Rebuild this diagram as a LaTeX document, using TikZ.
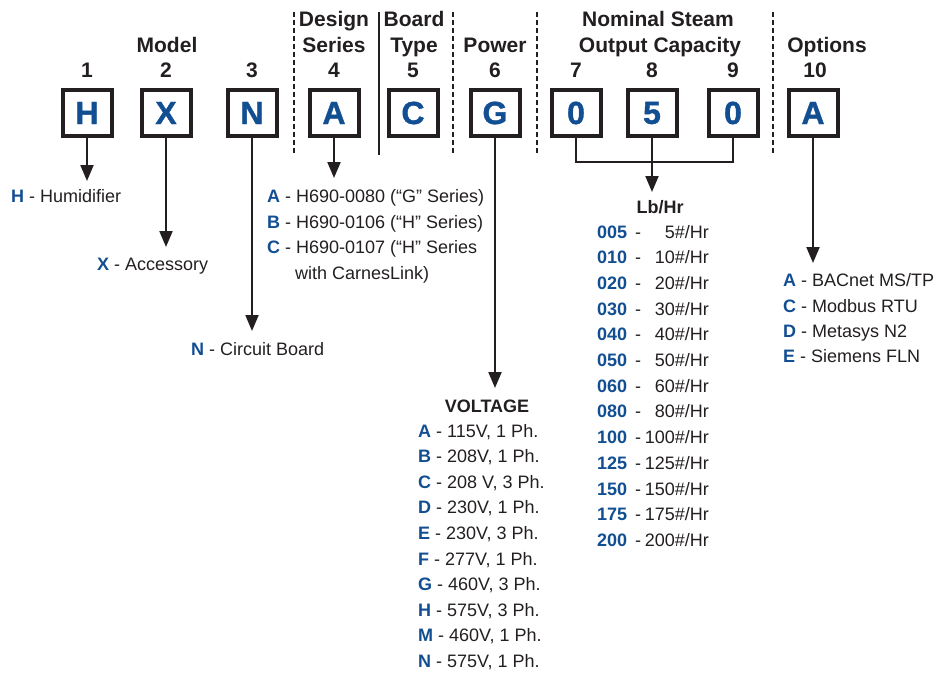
\documentclass[tikz,border=0pt]{standalone}
\usepackage{fontspec}
\setmainfont{Liberation Sans}
\usetikzlibrary{arrows.meta}
\definecolor{cblue}{RGB}{18,78,146}
\definecolor{ink}{RGB}{35,31,32}
\newcommand{\cd}[1]{\textcolor{cblue}{\textbf{#1}}}
\tikzset{
  codebox/.style={draw=ink, line width=4pt, minimum width=49pt, minimum height=46pt, inner sep=0pt,
    font=\fontsize{32}{36}\selectfont\bfseries\addfontfeatures{FakeBold=1.2}, text=cblue},
  head/.style={anchor=base, inner sep=0pt, font=\fontsize{21}{24}\selectfont\bfseries, text=ink},
  item/.style={anchor=base west, inner sep=0pt, font=\fontsize{18}{20}\selectfont, text=ink},
  itemr/.style={anchor=base east, inner sep=0pt, font=\fontsize{18}{20}\selectfont, text=ink},
  itemc/.style={anchor=base, inner sep=0pt, font=\fontsize{18}{20}\selectfont\bfseries, text=ink},
  arr/.style={draw=ink, line width=2pt, -{Triangle[length=16pt 0, width=13pt 0]}},
  conn/.style={draw=ink, line width=2pt},
  divd/.style={draw=ink, line width=2pt, dash pattern=on 5pt off 3pt},
  divs/.style={draw=ink, line width=2pt},
}
\begin{document}
\begin{tikzpicture}[x=1pt,y=-1pt]
\useasboundingbox (0,0) rectangle (938,673);
% dividers
\draw[divd] (294,12) -- (294,155);
\draw[divs] (379,12) -- (379,155);
\draw[divd] (453,12) -- (453,155);
\draw[divd] (537,12) -- (537,155);
\draw[divd] (773,12) -- (773,155);
% headings
\node[head] (hmodel) at (167,52) {Model};
\node[head] (hdes1) at (334,26) {Design};
\node[head] (hdes2) at (334,52) {Series};
\node[head] (hbrd1) at (414,26) {Board};
\node[head] (hbrd2) at (414,52) {Type};
\node[head] (hpow) at (495,52) {Power};
\node[head] (hnom1) at (658,26) {Nominal Steam};
\node[head] (hnom2) at (660,52) {Output Capacity};
\node[head] (hopt) at (827,52) {Options};
% position numbers
\node[head] (n1) at (87,77) {1};
\node[head] (n2) at (166,77) {2};
\node[head] (n3) at (252,77) {3};
\node[head] (n4) at (334,77) {4};
\node[head] (n5) at (413,77) {5};
\node[head] (n6) at (495,77) {6};
\node[head] (n7) at (576,77) {7};
\node[head] (n8) at (652,77) {8};
\node[head] (n9) at (733,77) {9};
\node[head] (n10) at (815,77) {10};
% boxes
\node[codebox] (b1) at (87,113) {H};
\node[codebox] (b2) at (166,113) {X};
\node[codebox] (b3) at (252,113) {N};
\node[codebox] (b4) at (334,113) {A};
\node[codebox] (b5) at (413,113) {C};
\node[codebox] (b6) at (495,113) {G};
\node[codebox] (b7) at (576,113) {0};
\node[codebox] (b8) at (652,113) {5};
\node[codebox] (b9) at (733,113) {0};
\node[codebox] (b10) at (813,113) {A};
% arrow ends
\coordinate (t1) at (87,181);
\coordinate (t2) at (166,247);
\coordinate (t3) at (252,331);
\coordinate (t4) at (334,178);
\coordinate (t6) at (495,388);
\coordinate (br) at (652,162);
\coordinate (t8) at (652,192);
\coordinate (t10) at (813,263);
\draw[arr] (b1.south) -- (t1);
\draw[arr] (b2.south) -- (t2);
\draw[arr] (b3.south) -- (t3);
\draw[arr] (b4.south) -- (t4);
\draw[arr] (b6.south) -- (t6);
\draw[conn] (b7.south) |- (br) -| (b9.south);
\draw[arr] (b8.south) -- (t8);
\draw[arr] (b10.south) -- (t10);
% model items
\node[item] (iH) at (11,202) {\cd{H} - Humidifier};
\node[item] (iX) at (97,270) {\cd{X} - Accessory};
\node[item] (iN) at (191,355) {\cd{N} - Circuit Board};
% design series
\node[item] (dA) at (267,202) {\cd{A} - H690-0080 (“G” Series)};
\node[item] (dB) at (267,228) {\cd{B} - H690-0106 (“H” Series)};
\node[item] (dC) at (267,253) {\cd{C} - H690-0107 (“H” Series};
\node[item] (dC2) at (295,279) {with CarnesLink)};
% voltage
\node[itemc] (vt) at (487,412) {VOLTAGE};
\foreach \k/\t [count=\i from 0] in {A/{115V, 1 Ph.},B/{208V, 1 Ph.},C/{208 V, 3 Ph.},D/{230V, 1 Ph.},E/{230V, 3 Ph.},F/{277V, 1 Ph.},G/{460V, 3 Ph.},H/{575V, 3 Ph.},M/{460V, 1 Ph.},N/{575V, 1 Ph.}}
  \node[item] (v\k) at (418,437+25.6*\i) {\cd{\k} - \t};
% capacity
\node[itemc] (lb) at (660,213) {Lb/Hr};
\foreach \c/\t [count=\i from 0] in {005/5,010/10,020/20,030/30,040/40,050/50,060/60,080/80,100/100,125/125,150/150,175/175,200/200}{
  \node[item] (c\c) at (597,238+25.7*\i) {\cd{\c}};
  \node[item] (cd\c) at (635,238+25.7*\i) {-};
  \node[itemr] (cv\c) at (709,238+25.7*\i) {\t\#/Hr};
}
% options
\node[item] (oA) at (783,286) {\cd{A} - BACnet MS/TP};
\node[item] (oC) at (783,312) {\cd{C} - Modbus RTU};
\node[item] (oD) at (783,337) {\cd{D} - Metasys N2};
\node[item] (oE) at (783,362) {\cd{E} - Siemens FLN};
\end{tikzpicture}
\end{document}
